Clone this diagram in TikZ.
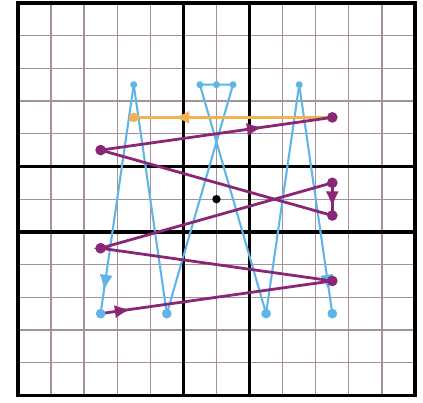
\documentclass[tikz,border=0pt]{standalone}
\usetikzlibrary{arrows.meta, decorations.markings}

\definecolor{scanblue}{RGB}{95,182,230}
\definecolor{scanpurple}{RGB}{138,38,118}
\definecolor{scanorange}{RGB}{240,178,82}
\definecolor{gridgray}{RGB}{165,145,150}

\begin{document}
\begin{tikzpicture}[
  x=0.5cm, y=-0.494cm,
  finegrid/.style={draw=gridgray, line width=0.5pt},
  blockline/.style={line width=1.5pt},
  bluepath/.style={draw=scanblue, line width=0.9pt},
  purplepath/.style={draw=scanpurple, line width=1.2pt},
  orangepath/.style={draw=scanorange, line width=1.4pt},
  midarrow/.style={postaction={decorate, decoration={markings,
      mark=at position #1 with {\arrow{Latex[length=2.4mm, width=2mm]}}}}}
]
  \useasboundingbox (-0.54,-0.09) rectangle (12.24,12.21);

  % GRID
  \foreach \i in {0,...,12} {
    \draw[finegrid] (\i,0) -- (\i,12);
    \draw[finegrid] (0,\i) -- (12,\i);
  }
  \draw[blockline] (0,0) rectangle (12,12);
  \draw[blockline] (5,0) -- (5,12) (7,0) -- (7,12);
  \draw[blockline] (0,5) -- (12,5) (0,7) -- (12,7);

  % points
  \coordinate (top1) at (3.5,2.5);
  \coordinate (top2) at (5.5,2.5);
  \coordinate (top3) at (6,2.5);
  \coordinate (top4) at (6.5,2.5);
  \coordinate (top5) at (8.5,2.5);
  \coordinate (bot1) at (2.5,9.5);
  \coordinate (bot2) at (4.5,9.5);
  \coordinate (bot3) at (7.5,9.5);
  \coordinate (bot4) at (9.5,9.5);
  \coordinate (p1) at (9.5,8.5);
  \coordinate (p2) at (2.5,7.5);
  \coordinate (p3) at (9.5,5.5);
  \coordinate (p4) at (9.5,6.5);
  \coordinate (p5) at (2.5,4.5);
  \coordinate (p6) at (9.5,3.5);
  \coordinate (o1) at (3.5,3.5);
  \coordinate (ctr) at (6,6);

  % BLUE zigzag
  \draw[bluepath] (top3) -- (top4) -- (bot2) -- (top1);
  \draw[bluepath, midarrow=0.9] (top1) -- (bot1);
  \draw[bluepath] (top3) -- (top2) -- (bot3) -- (top5);
  \draw[bluepath, midarrow=0.9] (top5) -- (bot4);

  % ORANGE return
  \draw[orangepath, midarrow=0.8] (p6) -- (o1);

  % PURPLE zigzag
  \draw[purplepath, midarrow=0.13] (bot1) -- (p1);
  \draw[purplepath] (p1) -- (p2) -- (p3);
  \draw[purplepath, midarrow=0.75] (p3) -- (p4);
  \draw[purplepath] (p4) -- (p5);
  \draw[purplepath, midarrow=0.7] (p5) -- (p6);

  % dots
  \foreach \pt in {top1, top2, top3, top4, top5}
    \fill[scanblue] (\pt) circle (1.5pt);
  \foreach \pt in {bot1, bot2, bot3, bot4}
    \fill[scanblue] (\pt) circle (2.1pt);
  \foreach \pt in {p1, p2, p3, p4, p5, p6}
    \fill[scanpurple] (\pt) circle (2.3pt);
  \fill[scanorange] (o1) circle (2.1pt);
  \fill[black] (ctr) circle (1.8pt);
\end{tikzpicture}
\end{document}
